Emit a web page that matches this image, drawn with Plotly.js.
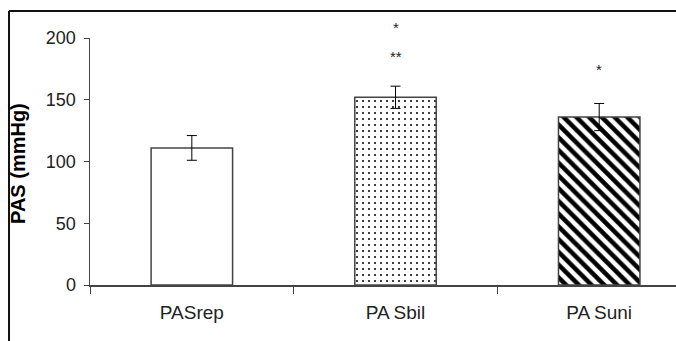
<!DOCTYPE html>
<html><head><meta charset="utf-8">
<script src="https://cdn.plot.ly/plotly-3.0.1.min.js"></script>
<style>html,body{margin:0;padding:0;background:#fff}#c{width:676px;height:341px}</style>
</head><body><div id="c"></div>
<script>
const categories = ["PASrep", "PASbil", "PASuni"];
const tickLabels = ["PASrep", "PA\u2009Sbil", "PA\u2009Suni"];
const values = [111, 152, 136];
const errors = [10, 9, 11];
const starText = ["*", "**", "*"];
const starCat = [1, 1, 2];
const starY = [212, 188, 178];
const yRange = [0, 200];

const patterns = [
  {shape: ""},
  {shape: ".", size: 6, solidity: 0.1, fgcolor: "#111", fgopacity: 1, bgcolor: "#fff", fillmode: "overlay"},
  {shape: "\\", size: 9, solidity: 0.5, fgcolor: "#000", fgopacity: 1, bgcolor: "#fff", fillmode: "overlay"}
];

const traces = categories.map((c, i) => ({
  type: "bar", x: [c], y: [values[i]],
  width: 0.4,
  error_y: {type: "data", array: [errors[i]], visible: true, color: "#000", thickness: 1, width: 5},
  marker: {color: "#fff", line: {color: "#444", width: 1.5}, pattern: patterns[i]},
  showlegend: false, hoverinfo: "none"
}));

const annotations = starText.map((t, i) => ({
  x: categories[starCat[i]], xref: "x",
  y: (starY[i] - yRange[0]) / (yRange[1] - yRange[0]), yref: "y domain",
  text: t, showarrow: false, yanchor: "middle", yshift: -4,
  font: {family: "Liberation Sans, Arial", size: 15, color: "#222"}
}));
annotations.push({
  xref: "paper", yref: "paper", x: -0.1229, y: 0.494, textangle: -90,
  text: "<b>PAS (mmHg)</b>", showarrow: false, xanchor: "center", yanchor: "middle",
  font: {family: "Liberation Sans, Arial", size: 20, color: "#000"}
});

const layout = {
  width: 676, height: 341,
  margin: {l: 90, r: 0, t: 38, b: 56},
  paper_bgcolor: "#fff", plot_bgcolor: "#fff",
  font: {family: "Liberation Sans, Arial, sans-serif", color: "#222"},
  xaxis: {type: "category", categoryorder: "array", categoryarray: categories,
    tickvals: categories, ticktext: tickLabels,
    range: [-0.5, 2.377], showline: true, linecolor: "#444", linewidth: 1.5,
    ticks: "outside", tickson: "boundaries", ticklen: 7, tickcolor: "#444",
    ticklabelstandoff: 10,
    showgrid: false, zeroline: false, tickfont: {size: 19, color: "#222"}},
  yaxis: {range: yRange, tickvals: [0, 50, 100, 150, 200], showline: true, linecolor: "#444", linewidth: 1.5,
    ticks: "outside", ticklen: 5, tickcolor: "#444", showgrid: false, zeroline: false,
    ticklabelstandoff: 4,
    tickfont: {size: 18, color: "#222"}},
  annotations: annotations,
  shapes: [
    {type: "line", xref: "paper", yref: "paper", x0: -0.1382, x1: 1.2, y0: 1.1093, y1: 1.1093, line: {color: "#111", width: 2}},
    {type: "line", xref: "paper", yref: "paper", x0: -0.1382, x1: -0.1382, y0: 1.1093, y1: -0.4, line: {color: "#111", width: 2}}
  ]
};
Plotly.newPlot("c", traces, layout, {staticPlot: true});
</script></body></html>
